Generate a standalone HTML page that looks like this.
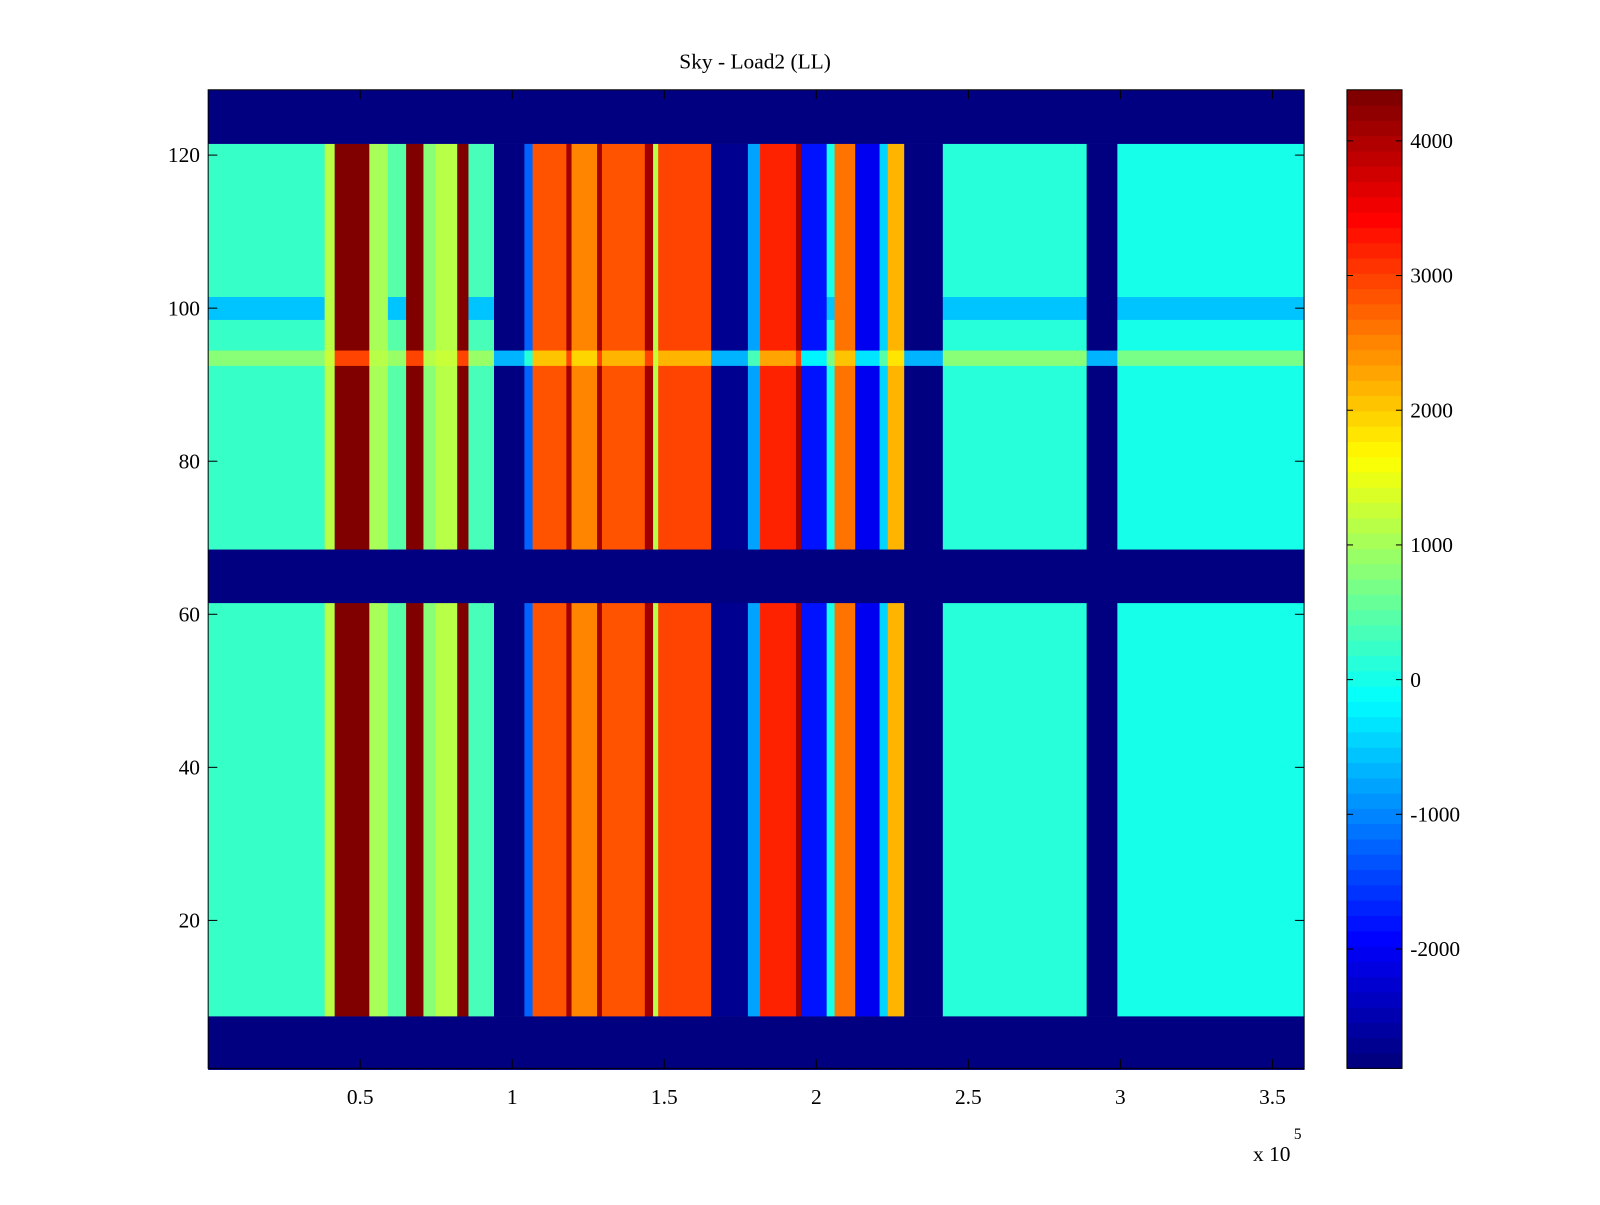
<!DOCTYPE html>
<html><head><meta charset="utf-8">
<style>
html,body{margin:0;padding:0;background:#fff;}
svg text{font-family:"Liberation Serif",serif;font-size:21px;fill:#000;}
</style></head>
<body>
<svg id="chart" width="1600" height="1200" viewBox="0 0 1600 1200" xmlns="http://www.w3.org/2000/svg">
<rect width="1600" height="1200" fill="#fff"/>
<g transform="scale(1.0204)">
<text x="740" y="67" text-anchor="middle">Sky - Load2 (LL)</text>
<g id="plot"></g>
<g id="axes"></g>
<g id="cbar"></g>
</g>
</svg>
<script>
// band boundaries along x (units of 1e5) and mean values in each band
const bandEdges = [0,0.383,0.416,0.530,0.591,0.651,0.708,0.748,0.819,0.856,0.940,1.040,1.067,1.178,1.195,1.279,1.295,1.436,1.463,1.480,1.654,1.775,1.815,1.933,1.950,2.034,2.060,2.128,2.208,2.235,2.289,2.416,2.889,2.990,3.604];
const bandValues = [200,1200,4380,1000,500,4380,800,1100,4380,400,-2850,-1200,2800,4100,2500,4100,2900,4100,1200,3000,-2700,-800,3200,4100,-1800,0,2600,-2000,-500,2200,-2800,100,-2850,0];
// flagged rows (whole row at minimum)
const flaggedRows = [[1,7],[62,68],[122,128]];
// special stripe rows
const stripeRows = [93,94];
const stripeRows2 = [99,100,101];
const xTicks = [0.5,1,1.5,2,2.5,3,3.5];
const xTickLabels = ["0.5","1","1.5","2","2.5","3","3.5"];
const yTicks = [20,40,60,80,100,120];
const cTicks = [-2000,-1000,0,1000,2000,3000,4000];
const cMin = -2886, cMax = 4379;

const L=204,R=1278,T=88,B=1047;
const xMax=3.604;
const xs = v => L + v/xMax*(R-L);
const ys = r => 1052 - 7.5*r; // row center
const NS="http://www.w3.org/2000/svg";
function jet(v){
  let t=(v-cMin)/(cMax-cMin); t=Math.max(0,Math.min(1,t));
  t=Math.floor(t*63.999)/63;
  const f=x=>Math.max(0,Math.min(1,x));
  const r=f(1.5-Math.abs(4*t-3)),g=f(1.5-Math.abs(4*t-2)),b=f(1.5-Math.abs(4*t-1));
  return `rgb(${Math.round(r*255)},${Math.round(g*255)},${Math.round(b*255)})`;
}
function mk(tag,attrs,parent){const e=document.createElementNS(NS,tag);for(const k in attrs)e.setAttribute(k,attrs[k]);parent.appendChild(e);return e;}
function rowValue(base,r){
  for(const [a,b] of flaggedRows) if(r>=a&&r<=b) return cMin;
  if(stripeRows.includes(r)){ if(base<=-2500) return -700; if(base>=4000) return 3000; return base*0.5+700; }
  if(stripeRows2.includes(r)){ if(base>-300&&base<600) return -600; }
  return base;
}
const plot=document.getElementById('plot');
for(let i=0;i<bandValues.length;i++){
  const x0=xs(bandEdges[i]),x1=xs(bandEdges[i+1]);
  let r=1;
  while(r<=128){
    const v=rowValue(bandValues[i],r);
    let r2=r; while(r2+1<=128 && rowValue(bandValues[i],r2+1)===v) r2++;
    const el=mk('rect',{x:x0,y:ys(r2)-3.75,width:x1-x0+0.5,height:(r2-r+1)*7.5+0.3,fill:jet(v)},plot);
    
    
    r=r2+1;
  }
}
const axes=document.getElementById('axes');
mk('rect',{x:L,y:T,width:R-L,height:B-T,fill:'none',stroke:'#000','stroke-width':1},axes);
xTicks.forEach((v,i)=>{
  const x=xs(v);
  mk('line',{x1:x,y1:B,x2:x,y2:B-9,stroke:'#000'},axes);
  mk('line',{x1:x,y1:T,x2:x,y2:T+9,stroke:'#000'},axes);
  const t=mk('text',{x:x,y:B+35,'text-anchor':'middle'},axes);t.textContent=xTickLabels[i];
  
  
});
yTicks.forEach(v=>{
  const y=ys(v);
  mk('line',{x1:L,y1:y,x2:L+9,y2:y,stroke:'#000'},axes);
  mk('line',{x1:R,y1:y,x2:R-9,y2:y,stroke:'#000'},axes);
  const t=mk('text',{x:L-8,y:y+7,'text-anchor':'end'},axes);t.textContent=v;
  
  
});
const ex=mk('text',{x:1228,y:1138},axes);ex.textContent='x 10';


const ex5=mk('text',{x:1268,y:1116,style:'font-size:15px'},axes);ex5.textContent='5';



const cb=document.getElementById('cbar');
const CL=1320,CR=1374;
for(let k=0;k<64;k++){
  const v0=cMin+(cMax-cMin)*k/64, v1=cMin+(cMax-cMin)*(k+1)/64;
  const y0=B-(B-T)*k/64, y1=B-(B-T)*(k+1)/64;
  const el=mk('rect',{x:CL,y:y1,width:CR-CL,height:y0-y1+0.5,fill:jet((v0+v1)/2)},cb);
  
  
}
mk('rect',{x:CL,y:T,width:CR-CL,height:B-T,fill:'none',stroke:'#000'},cb);
const cy=v=>B-(v-cMin)/(cMax-cMin)*(B-T);
cTicks.forEach(v=>{
  const y=cy(v);
  mk('line',{x1:CL,y1:y,x2:CL+6,y2:y,stroke:'#000'},cb);
  mk('line',{x1:CR,y1:y,x2:CR-6,y2:y,stroke:'#000'},cb);
  const t=mk('text',{x:CR+8,y:y+7},cb);t.textContent=v;
  
  
});
</script>
</body></html>
